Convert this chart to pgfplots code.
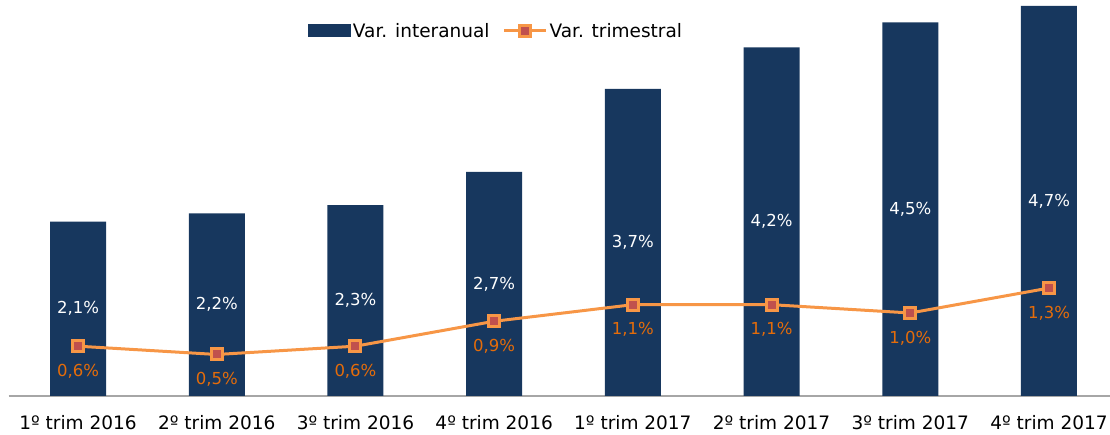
\documentclass[border=0pt]{standalone}
\usepackage{pgfplots}
\usepackage{pgfplotstable}
\pgfplotsset{compat=1.18}
\usepackage{fontspec}
\setmainfont{DejaVu Sans}
\definecolor{navy}{HTML}{17375E}
\definecolor{lineor}{HTML}{F79646}
\definecolor{markred}{HTML}{C0504D}
\definecolor{labor}{HTML}{E46C0A}
\definecolor{axgray}{HTML}{A6A6A6}

\pgfplotsset{
  barlegend/.style={legend image code/.code={\fill[navy] (0pt,-6.5pt) rectangle (43pt,6.5pt);}},
  linelegend/.style={legend image code/.code={\draw[##1, mark repeat=2, mark phase=2] plot coordinates {(0pt,0pt)(21pt,0pt)(42pt,0pt)};}},
}

\pgfplotstableread{
x inter trim
0 2.1 0.6
1 2.2 0.5
2 2.3 0.6
3 2.7 0.9
4 3.7 1.1
5 4.2 1.1
6 4.5 1.0
7 4.7 1.3
}\datatab

\begin{document}
\begin{tikzpicture}
\useasboundingbox (0,0) rectangle (1110pt,435pt);
\begin{axis}[
  at={(8.7pt,39pt)}, anchor=south west,
  scale only axis, width=1101.3pt, height=396pt,
  xmin=-0.5, xmax=7.44, ymin=0, ymax=4.77,
  clip=false,
  axis y line=none, axis x line*=bottom,
  x axis line style={draw=axgray, line width=1.5pt},
  xtick={0,...,7},
  xticklabels={1º trim 2016,2º trim 2016,3º trim 2016,4º trim 2016,1º trim 2017,2º trim 2017,3º trim 2017,4º trim 2017},
  major tick length=0pt,
  xticklabel style={anchor=base, yshift=-33.5pt, font=\fontsize{18.5}{22}\selectfont},
  legend style={draw=none, fill=none, at={(0.4425,0.922)}, anchor=center,
    legend columns=-1, font=\fontsize{18.5}{22}\selectfont,
    /tikz/every even column/.append style={column sep=11pt}},
  legend cell align=left,
]
\addplot[ybar, bar width=56pt, fill=navy, draw=none, barlegend]
  table[x=x, y=inter] {\datatab};
\addlegendentry{Var. interanual}
\addplot[color=lineor, line width=3pt, mark=square*, mark size=5.5pt,
  mark options={fill=markred, draw=lineor, line width=3pt},
  linelegend,
  nodes near coords={\pgfmathprintnumber[assume math mode=true, use comma, fixed, fixed zerofill, precision=1]{\pgfplotspointmeta}\%},
  every node near coord/.append style={anchor=center, yshift=-25pt, text=labor, font=\fontsize{16.5}{20}\selectfont},
  point meta=explicit]
  table[x=x, y=trim, meta=trim] {\datatab};
\addlegendentry{Var. trimestral}
\addplot[draw=none, mark=none, forget plot,
  nodes near coords={\pgfmathprintnumber[assume math mode=true, use comma, fixed, fixed zerofill, precision=1]{\pgfplotspointmeta}\%},
  nodes near coords align={center},
  every node near coord/.append style={anchor=center, text=white, font=\fontsize{16.5}{20}\selectfont},
  point meta=explicit]
  table[x=x, y expr=\thisrow{inter}/2, meta=inter] {\datatab};
\end{axis}
\end{tikzpicture}
\end{document}
